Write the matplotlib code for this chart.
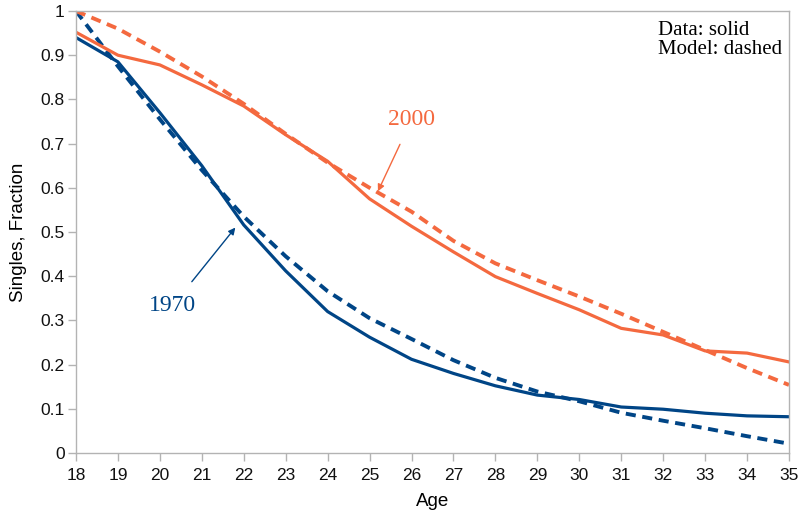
import numpy as np
import matplotlib.pyplot as plt

# ages and single fractions (data vs. model) for the 1970 and 2000 cohorts
age = np.arange(18, 36)

data_1970 = [0.94, 0.885, 0.77, 0.65, 0.516, 0.412, 0.32, 0.262, 0.212, 0.18,
             0.152, 0.131, 0.121, 0.104, 0.099, 0.090, 0.084, 0.082]
model_1970 = [1.0, 0.875, 0.755, 0.64, 0.535, 0.445, 0.366, 0.305, 0.258, 0.21,
              0.17, 0.139, 0.117, 0.091, 0.073, 0.056, 0.038, 0.021]
data_2000 = [0.952, 0.90, 0.878, 0.833, 0.785, 0.72, 0.66, 0.575, 0.513, 0.455,
             0.399, 0.361, 0.324, 0.282, 0.267, 0.231, 0.226, 0.206]
model_2000 = [1.0, 0.96, 0.908, 0.852, 0.79, 0.722, 0.657, 0.60, 0.546, 0.48,
              0.429, 0.391, 0.354, 0.315, 0.274, 0.233, 0.192, 0.154]

blue = '#004586'
orange = '#f4693f'
grey = '#b3b3b3'

plt.rcParams['font.family'] = 'Liberation Sans'

fig = plt.figure(figsize=(7.98, 5.19), dpi=100)
ax = fig.add_axes([0.0952, 0.1272, 0.8935, 0.8516])

ax.plot(age, data_1970, color=blue, lw=2.3, solid_joinstyle='round')
ax.plot(age, model_1970, color=blue, lw=2.8, ls=(0, (2.6, 1.7)))
ax.plot(age, data_2000, color=orange, lw=2.3, solid_joinstyle='round')
ax.plot(age, model_2000, color=orange, lw=2.8, ls=(0, (2.6, 1.7)))

ax.set_xlim(18, 35)
ax.set_ylim(0, 1)
ax.set_xticks(age)
ax.set_yticks(np.arange(0, 1.01, 0.1))
ax.set_yticklabels(['0', '0.1', '0.2', '0.3', '0.4', '0.5', '0.6', '0.7', '0.8', '0.9', '1'])

for s in ax.spines.values():
    s.set_color(grey)
    s.set_linewidth(1.0)
ax.tick_params(direction='out', length=6, width=1, color=grey,
               labelsize=12.5, labelcolor='#111111')
ax.tick_params(axis='x', pad=5)
ax.tick_params(axis='y', pad=2)

ax.set_xlabel('Age', fontsize=13.5, labelpad=7)
ax.set_ylabel('Singles, Fraction', fontsize=13.5, labelpad=10)

serif = 'Liberation Serif'
ax.text(0.816, 0.978, 'Data: solid\nModel: dashed', transform=ax.transAxes,
        ha='left', va='top', fontsize=15, family=serif, linespacing=1.05)

ax.annotate('2000', xy=(25.2, 0.592), xytext=(26.0, 0.754),
            fontsize=17, family=serif, color=orange, ha='center', va='center',
            arrowprops=dict(arrowstyle='-|>', color=orange, lw=1.0,
                            mutation_scale=10, shrinkA=9, shrinkB=0))
ax.annotate('1970', xy=(21.8, 0.51), xytext=(20.3, 0.333),
            fontsize=17, family=serif, color=blue, ha='center', va='center',
            arrowprops=dict(arrowstyle='-|>', color=blue, lw=1.0,
                            mutation_scale=10, shrinkA=10, shrinkB=0))

fig.savefig('out.png', dpi=100)
